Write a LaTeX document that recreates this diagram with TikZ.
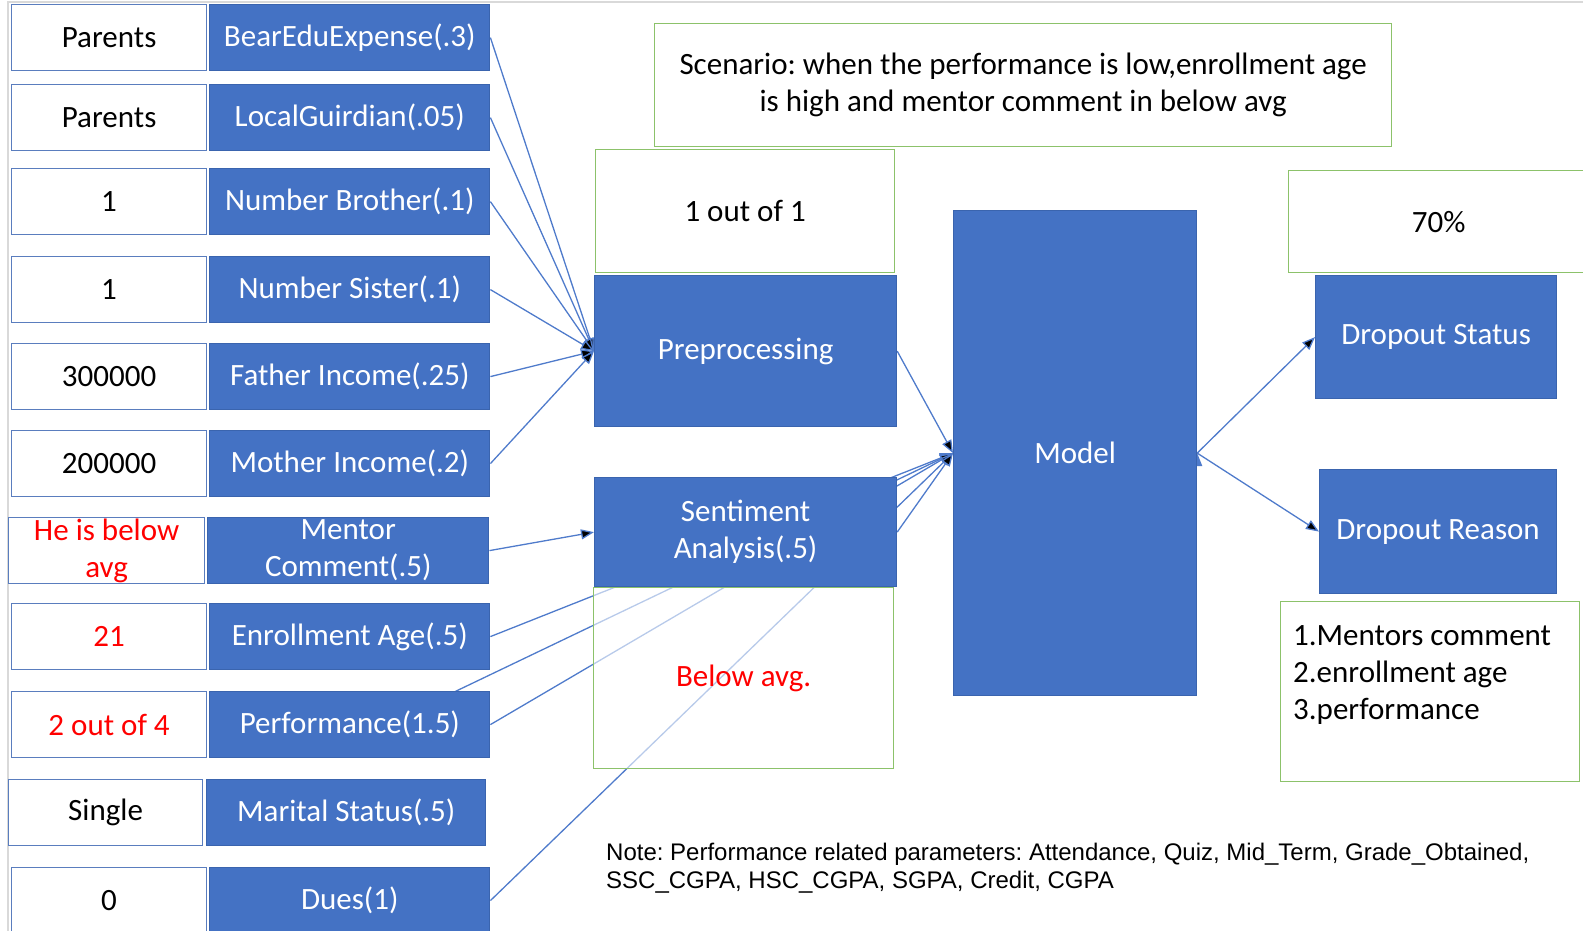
\documentclass[tikz,border=0pt]{standalone}
\usepackage{fontspec}
\setmainfont{Carlito}
\newfontfamily\notefont{Liberation Sans}
\usepackage{tikz}
\usetikzlibrary{positioning,arrows.meta,backgrounds}
\definecolor{boxblue}{HTML}{4472C4}
\definecolor{boxedge}{HTML}{3A64AE}
\definecolor{valedge}{HTML}{5A7DBE}
\definecolor{greenline}{HTML}{8CC26A}
\definecolor{linkblue}{HTML}{4F7BCB}
\definecolor{alertred}{HTML}{FF0000}
\frenchspacing

\begin{document}
\begin{tikzpicture}[x=1pt,y=-1pt,
  every node/.style={font=\fontsize{31}{37}\selectfont,inner sep=0pt,align=center},
  value node/.style={draw=valedge,line width=1.2pt,fill=white,minimum width=195pt,minimum height=66pt,anchor=north west},
  factor node/.style={draw=boxedge,line width=1.2pt,fill=boxblue,text=white,minimum width=280pt,minimum height=66pt},
  block node/.style={draw=boxedge,line width=1.2pt,fill=boxblue,text=white,anchor=north west},
  green box/.style={draw=greenline,line width=1.3pt,fill=white,anchor=north west},
  link/.style={draw=linkblue,line width=1.3pt},
  arrow/.style={link,-{Triangle[length=13pt,width=10pt]}}]
  \useasboundingbox (0,0) rectangle (1583,930);

  % inputs
  \node[value node] (v1) at (11,4) {Parents};
  \node[factor node] (f1) [right=2pt of v1] {BearEduExpense(.3)};
  \node[value node] (v2) at (11,84) {Parents};
  \node[factor node] (f2) [right=2pt of v2] {LocalGuirdian(.05)};
  \node[value node] (v3) at (11,168) {1};
  \node[factor node] (f3) [right=2pt of v3] {Number Brother(.1)};
  \node[value node] (v4) at (11,256) {1};
  \node[factor node] (f4) [right=2pt of v4] {Number Sister(.1)};
  \node[value node] (v5) at (11,343) {300000};
  \node[factor node] (f5) [right=2pt of v5] {Father Income(.25)};
  \node[value node] (v6) at (11,430) {200000};
  \node[factor node] (f6) [right=2pt of v6] {Mother Income(.2)};
  \node[value node,minimum width=196pt,text=alertred] (v7) at (8,517) {He is below\\avg};
  \node[factor node,minimum width=281pt] (f7) [right=2pt of v7] {Mentor\\Comment(.5)};
  \node[value node,text=alertred] (v8) at (11,603) {21};
  \node[factor node] (f8) [right=2pt of v8] {Enrollment Age(.5)};
  \node[value node,text=alertred] (v9) at (11,691) {2 out of 4};
  \node[factor node] (f9) [right=2pt of v9] {Performance(1.5)};
  \node[value node,minimum width=194pt] (v10) at (8,779) {Single};
  \node[factor node,minimum width=279pt] (f10) [right=3pt of v10] {Marital Status(.5)};
  \node[value node] (v11) at (11,867) {0};
  \node[factor node] (f11) [right=2pt of v11] {Dues(1)};
  \coordinate (hid) at (427,705);

  % processing
  \node[green box,minimum width=299pt,minimum height=123pt] (count) at (595,149) {1 out of 1};
  \node[block node,minimum width=302pt,minimum height=151pt] (prep) at (594,275) {Preprocessing};
  \node[block node,minimum width=302pt,minimum height=109pt] (senti) at (594,477) {Sentiment\\Analysis(.5)};
  \node[green box,minimum width=300pt,minimum height=181pt,fill opacity=0.6,text opacity=1,text=alertred] (below) at (593,587) {Below avg.};
  \node[green box,minimum width=737pt,minimum height=123pt] (scenario) at (654,23) {Scenario: when the performance is low,enrollment age\\is high and mentor comment in below avg};
  \node[block node,minimum width=243pt,minimum height=485pt] (model) at (953,210) {Model};

  % outputs
  \node[green box,minimum width=300pt,minimum height=102pt] (rate) at (1288,170) {70\%};
  \node[block node,minimum width=241pt,minimum height=123pt] (status) at (1315,275) {Dropout Status};
  \node[block node,minimum width=237pt,minimum height=124pt] (reason) at (1319,469) {Dropout Reason};
  \node[green box,minimum width=299pt,minimum height=180pt] (reasonbox) at (1280,601) {};
  \node[anchor=west,align=left] (reasons) at (1293,675) {1.Mentors comment\\2.enrollment age\\3.performance};

  \node[anchor=west,align=left,font=\notefont\fontsize{24}{28}\selectfont] (note) at (606,868)
    {Note: Performance related parameters: Attendance, Quiz, Mid\_Term, Grade\_Obtained,\\SSC\_CGPA, HSC\_CGPA, SGPA, Credit, CGPA};

  \begin{scope}[on background layer]
    \draw[gray!30,line width=2.5pt] (8,935) -- (8,2) -- (1590,2);
    \path[arrow]
      (f1.east) edge (prep.west)
      (f2.east) edge (prep.west)
      (f3.east) edge (prep.west)
      (f4.east) edge (prep.west)
      (f5.east) edge (prep.west)
      (f6.east) edge (prep.west)
      (f7.east) edge (senti.west)
      (f8.east) edge (model.west)
      (hid) edge (model.west)
      (f9.east) edge (model.west)
      (f11.east) edge (model.west)
      (prep.east) edge (model.west)
      (senti.east) edge (model.west)
      (model.east) edge (status.west)
      (model.east) edge (reason.west);
  \end{scope}
\end{tikzpicture}
\end{document}
